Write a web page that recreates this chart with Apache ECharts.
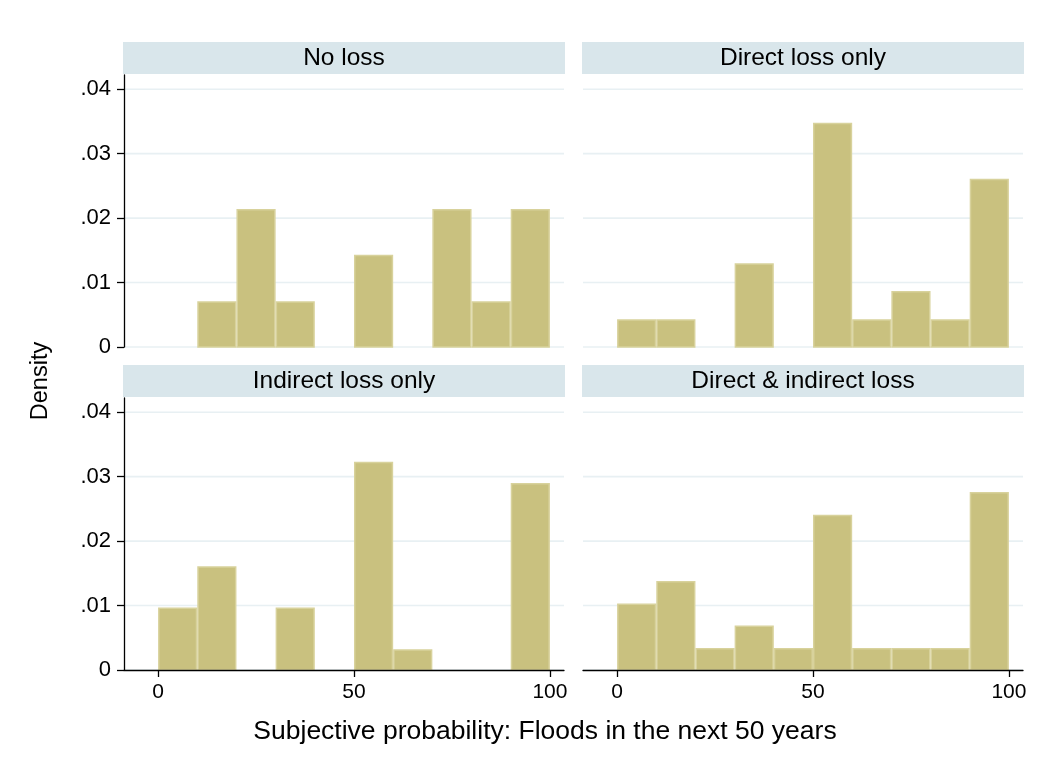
<!DOCTYPE html>
<html><head><meta charset="utf-8">
<script src="https://cdn.jsdelivr.net/npm/echarts@6/dist/echarts.min.js"></script>
<style>html,body{margin:0;padding:0;background:#fff}#c{width:1056px;height:772px}</style>
</head><body><div id="c"></div>
<script>
// Bin starts (bin width 10)
const binStarts = [0, 10, 20, 30, 40, 50, 60, 70, 80, 90];
const binWidth = 10;
// Densities
const noLoss       = [0, 0.0071, 0.0214, 0.0071, 0, 0.0143, 0, 0.0214, 0.0071, 0.0214];
const directOnly   = [0.0043, 0.0043, 0, 0.0130, 0, 0.0348, 0.0043, 0.0087, 0.0043, 0.0261];
const indirectOnly = [0.0097, 0.0161, 0, 0.0097, 0, 0.0323, 0.0032, 0, 0, 0.0290];
const directIndirect = [0.0103, 0.0138, 0.0034, 0.0069, 0.0034, 0.0241, 0.0034, 0.0034, 0.0034, 0.0276];
const panelTitles = ['No loss', 'Direct loss only', 'Indirect loss only', 'Direct & indirect loss'];
const yTicks = [0, 0.01, 0.02, 0.03, 0.04];
const xTicks = [0, 50, 100];
const xTitle = 'Subjective probability: Floods in the next 50 years';
const yTitle = 'Density';

const panels = [noLoss, directOnly, indirectOnly, directIndirect];
const FONT = '"Liberation Sans", Arial, Helvetica, sans-serif';
const grids = [
  {left: 124, top: 75, width: 440, height: 272},
  {left: 583, top: 75, width: 440, height: 272},
  {left: 124, top: 398, width: 440, height: 272},
  {left: 583, top: 398, width: 440, height: 272}
];
const headers = [
  {x: 123, y: 42}, {x: 582, y: 42}, {x: 123, y: 365}, {x: 582, y: 365}
];

function fmtY(v){ if (Math.abs(v) < 1e-9) return '0'; return v.toFixed(2).replace(/^0/, ''); }

const xAxes = grids.map((g, i) => {
  const bottom = i >= 2;
  return {
    gridIndex: i, type: 'value', min: -8.7, max: 103.6, interval: 50, z: 10,
    axisLine: {show: bottom, onZero: false, lineStyle: {color: '#000', width: 1.3}},
    axisTick: {show: bottom, length: 7, lineStyle: {color: '#000', width: 1.3},
      customValues: xTicks},
    axisLabel: {show: bottom, fontFamily: FONT, fontSize: 21, color: '#000', margin: 12,
      customValues: xTicks},
    splitLine: {show: false}
  };
});
const yAxes = grids.map((g, i) => {
  const left = i % 2 === 0;
  return {
    gridIndex: i, type: 'value', min: 0, max: 0.0422, z: 10,
    axisLine: {show: left, onZero: false, lineStyle: {color: '#000', width: 1.3}},
    axisTick: {show: left, length: 7, lineStyle: {color: '#000', width: 1.3}, customValues: yTicks},
    axisLabel: {show: left, fontFamily: FONT, fontSize: 22, color: '#000', margin: 13,
      customValues: yTicks, formatter: fmtY},
    splitLine: {show: false}
  };
});

const series = [];
panels.forEach((vals, i) => {
  series.push({
    type: 'custom', xAxisIndex: i, yAxisIndex: i, silent: true, z: 1,
    data: yTicks.map(v => [v]),
    renderItem: function(params, api){
      const y = api.coord([0, api.value(0)])[1];
      const cs = params.coordSys;
      return {type: 'line', shape: {x1: cs.x, y1: y, x2: cs.x + cs.width, y2: y},
        style: {stroke: '#E8F0F3', lineWidth: 1.6}};
    }
  });
  series.push({
    type: 'custom', xAxisIndex: i, yAxisIndex: i, z: 2,
    data: binStarts.map((b, k) => [b, vals[k]]).filter(d => d[1] > 0),
    renderItem: function(params, api){
      const x0 = api.value(0), v = api.value(1);
      const p0 = api.coord([x0, 0]);
      const p1 = api.coord([x0 + binWidth, v]);
      return {type: 'rect',
        shape: {x: p0[0] + 0.75, y: p1[1] + 0.75, width: p1[0] - p0[0] - 1.5, height: p0[1] - p1[1] - 0.75},
        style: {fill: '#C9C17F', stroke: '#D8D29C', lineWidth: 1.5}};
    }
  });
});

const graphics = [];
headers.forEach((h, i) => {
  graphics.push({type: 'rect', left: h.x, top: h.y, shape: {width: 442, height: 32},
    style: {fill: '#D9E6EB'}, z: 0});
  graphics.push({type: 'text', x: h.x + 221, y: h.y + 16,
    style: {text: panelTitles[i], font: '24.5px ' + FONT, fill: '#000', textAlign: 'center', textVerticalAlign: 'middle'}});
});
graphics.push({type: 'text', x: 545, y: 732,
  style: {text: xTitle, font: '26.5px ' + FONT, fill: '#000', textAlign: 'center', textVerticalAlign: 'middle'}});
graphics.push({type: 'text', x: 41, y: 381, rotation: Math.PI / 2,
  style: {text: yTitle, font: '23.5px ' + FONT, fill: '#000', textAlign: 'center', textVerticalAlign: 'middle'}});

const chart = echarts.init(document.getElementById('c'), null, {renderer: 'canvas'});
chart.setOption({
  backgroundColor: '#fff',
  animation: false,
  grid: grids,
  xAxis: xAxes,
  yAxis: yAxes,
  series: series,
  graphic: graphics
});
</script></body></html>
